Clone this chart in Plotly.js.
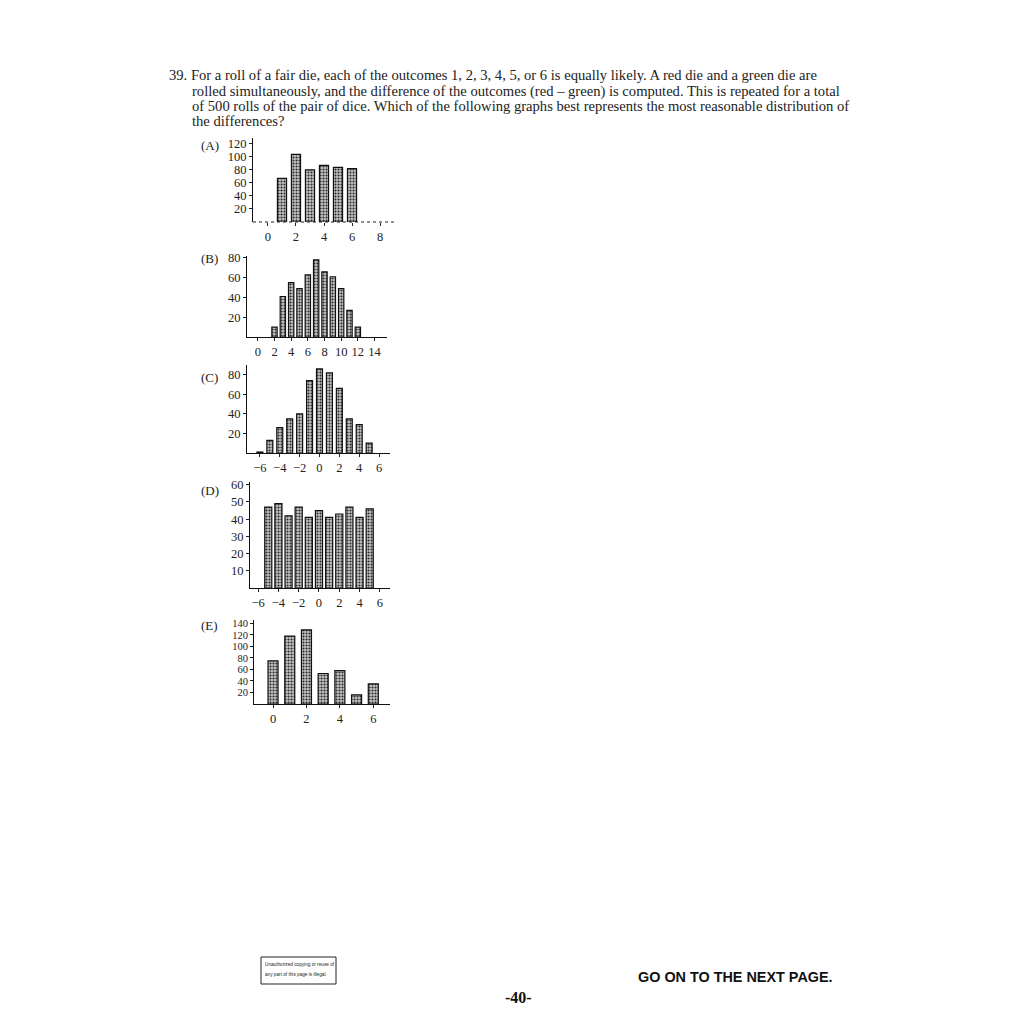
<!DOCTYPE html>
<html><head><meta charset="utf-8">
<script src="https://cdn.plot.ly/plotly-3.0.1.min.js"></script>
<style>html,body{margin:0;padding:0;background:#fff}#chart{width:1024px;height:1024px}</style>
</head><body><div id="chart"></div>
<script>
// ---- data ----
const aX = [1, 2, 3, 4, 5, 6];
const aY = [67, 104, 80, 87, 84, 82];
const aXTicks = [0, 2, 4, 6, 8];
const aYTicks = [20, 40, 60, 80, 100, 120];

const bX = [2, 3, 4, 5, 6, 7, 8, 9, 10, 11, 12];
const bY = [10, 41, 55, 49, 63, 78, 66, 61, 49, 27, 10];
const bXTicks = [0, 2, 4, 6, 8, 10, 12, 14];
const bYTicks = [20, 40, 60, 80];

const cX = [-6, -5, -4, -3, -2, -1, 0, 1, 2, 3, 4, 5];
const cY = [1, 13, 26, 35, 40, 74, 86, 82, 66, 35, 29, 10];
const cXTicks = [-6, -4, -2, 0, 2, 4, 6];
const cYTicks = [20, 40, 60, 80];

const dX = [-5, -4, -3, -2, -1, 0, 1, 2, 3, 4, 5];
const dY = [47, 49, 42, 47, 41, 45, 41, 43, 47, 41, 46];
const dXTicks = [-6, -4, -2, 0, 2, 4, 6];
const dYTicks = [10, 20, 30, 40, 50, 60];

const eX = [0, 1, 2, 3, 4, 5, 6];
const eY = [75, 118, 129, 53, 58, 16, 35];
const eXTicks = [0, 2, 4, 6];
const eYTicks = [20, 40, 60, 80, 100, 120, 140];

const panelLabels = ['(A)', '(B)', '(C)', '(D)', '(E)'];
const questionLines = [
  '39. For a roll of a fair die, each of the outcomes 1, 2, 3, 4, 5, or 6 is equally likely. A red die and a green die are',
  'rolled simultaneously, and the difference of the outcomes (red \u2013 green) is computed. This is repeated for a total',
  'of 500 rolls of the pair of dice. Which of the following graphs best represents the most reasonable distribution of',
  'the differences?'
];
const noticeLines = ['Unauthorized copying or reuse of', 'any part of this page is illegal.'];
const footerText = 'GO ON TO THE NEXT PAGE.';
const pageNumber = '-40-';

// ---- layout helpers (pixel -> paper) ----
const W = 1024, H = 1024;
const px = v => v / W;
const py = v => 1 - v / H;

const serif = 'Liberation Serif, Times New Roman, serif';
const panels = [
  {x: aX, y: aY, xt: aXTicks, yt: aYTicks, dom: [253, 395, 138, 222], xr: [-1.07, 9.07], yr: [0, 129], w: 0.65, fs: 12.5},
  {x: bX, y: bY, xt: bXTicks, yt: bYTicks, dom: [247, 387, 256, 337], xr: [-1.3, 15.5], yr: [0, 82], w: 0.64, fs: 12.5},
  {x: cX, y: cY, xt: cXTicks, yt: cYTicks, dom: [247, 390, 365, 453], xr: [-7.3, 7.1], yr: [0, 90], w: 0.6, fs: 12.5},
  {x: dX, y: dY, xt: dXTicks, yt: dYTicks, dom: [250, 390, 482, 588], xr: [-6.8, 7.0], yr: [0, 61.6], w: 0.7, fs: 12.5},
  {x: eX, y: eY, xt: eXTicks, yt: eYTicks, dom: [254, 390, 620, 704], xr: [-1.14, 7.0], yr: [0, 146], w: 0.6, fs: 10.5}
];
const labelY = [145, 258, 377, 490, 625];

const traces = [];
const layout = {
  width: W, height: H,
  margin: {l: 0, r: 0, t: 0, b: 0},
  paper_bgcolor: '#fff', plot_bgcolor: 'rgba(0,0,0,0)',
  showlegend: false,
  bargap: 0,
  annotations: [], shapes: []
};

panels.forEach((p, i) => {
  const n = i === 0 ? '' : String(i + 1);
  traces.push({
    type: 'bar', x: p.x, y: p.y, width: p.w,
    xaxis: 'x' + n, yaxis: 'y' + n,
    marker: {
      color: '#b8b8b8',
      line: {color: '#111', width: 1.2},
      pattern: {shape: '.', fgcolor: '#2a2a2a', bgcolor: '#c4c4c4', size: 3, solidity: 0.4}
    },
    hoverinfo: 'skip'
  });
  const xFont = {family: serif, size: 12.5, color: '#222'};
  const yFont = {family: serif, size: p.fs, color: '#222'};
  layout['xaxis' + n] = {
    domain: [px(p.dom[0]), px(p.dom[1])], anchor: 'y' + n,
    range: p.xr, tickmode: 'array', tickvals: p.xt,
    ticks: 'outside', ticklen: 3, tickcolor: '#222',
    showline: i !== 0, linecolor: '#111', linewidth: 1.2,
    showgrid: false, zeroline: false, tickfont: xFont, fixedrange: true
  };
  layout['yaxis' + n] = {
    domain: [py(p.dom[3]), py(p.dom[2])], anchor: 'x' + n,
    range: p.yr, tickmode: 'array', tickvals: p.yt,
    ticks: 'outside', ticklen: 3, tickcolor: '#222',
    showline: true, linecolor: '#111', linewidth: 1,
    showgrid: false, zeroline: false, tickfont: yFont, fixedrange: true
  };
  layout.annotations.push({
    text: panelLabels[i], xref: 'paper', yref: 'paper',
    x: px(199), y: py(labelY[i]), xanchor: 'left', yanchor: 'middle',
    showarrow: false, font: {family: serif, size: 13, color: '#222'}
  });
});
// dotted baseline for panel A
layout.shapes.push({
  type: 'line', xref: 'x domain', yref: 'y domain', x0: 0, x1: 1, y0: 0, y1: 0,
  line: {color: '#222', width: 1.2, dash: 'dot'}
});

// question text
const qx = [167, 190, 190, 190];
const qy = [75, 91, 106, 121];
questionLines.forEach((t, k) => {
  layout.annotations.push({
    text: t, xref: 'paper', yref: 'paper', x: px(qx[k]), y: py(qy[k]),
    xanchor: 'left', yanchor: 'middle', showarrow: false,
    font: {family: serif, size: 14.6, color: '#222'}
  });
});

// copyright notice box
layout.shapes.push({
  type: 'rect', xref: 'paper', yref: 'paper',
  x0: px(261), x1: px(336), y0: py(984), y1: py(957),
  line: {color: '#222', width: 1}, fillcolor: 'rgba(0,0,0,0)'
});
noticeLines.forEach((t, k) => {
  layout.annotations.push({
    text: t, xref: 'paper', yref: 'paper', x: px(263), y: py(964 + k * 10),
    xanchor: 'left', yanchor: 'middle', showarrow: false,
    font: {family: 'Liberation Sans, Arial, sans-serif', size: 4.7, color: '#222'}
  });
});
layout.annotations.push({
  text: '<b>' + footerText + '</b>', xref: 'paper', yref: 'paper',
  x: px(636), y: py(977), xanchor: 'left', yanchor: 'middle', showarrow: false,
  font: {family: 'Liberation Sans, Arial, sans-serif', size: 14.4, color: '#111'}
});
layout.annotations.push({
  text: '<b>' + pageNumber + '</b>', xref: 'paper', yref: 'paper',
  x: px(518), y: py(997), xanchor: 'center', yanchor: 'middle', showarrow: false,
  font: {family: 'Liberation Serif, Times New Roman, serif', size: 16, color: '#111'}
});

Plotly.newPlot('chart', traces, layout, {staticPlot: true, displayModeBar: false});
</script>
</body></html>
